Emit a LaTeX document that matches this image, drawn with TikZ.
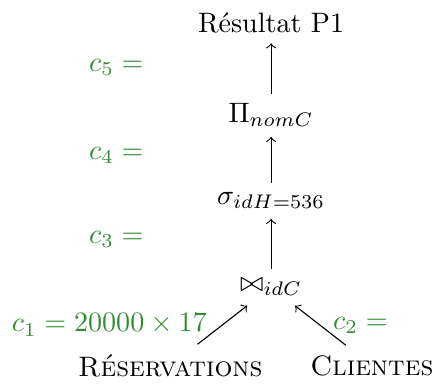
\documentclass[tikz,border=0pt]{standalone}
\definecolor{coutvert}{RGB}{51,140,51}
\begin{document}
\begin{tikzpicture}[cout/.style={text=coutvert}]
\useasboundingbox (-3.39,-1.225) rectangle (2.05,3.59);

\node (res) at (0,3.3) {R\'esultat P1};
\node (proj) at (0,2.15) {$\Pi_{nomC}$};
\node (sel) at (0,1.08) {$\sigma_{idH=536}$};
\node (join) at (0,0) {$\bowtie_{idC}$};
\node (resa) at (-1.26,-0.98) {\textsc{R\'eservations}};
\node (cli) at (1.26,-0.98) {\textsc{Clientes}};

\draw[->] (proj) -- (res);
\draw[->] (sel) -- (proj);
\draw[->] (join) -- (sel);
\draw[->] (resa) -- node[cout,left=2pt] {$c_1 = 20000 \times 17$} (join);
\draw[->] (cli) -- node[cout,right=1pt] {$c_2 =$} (join);

\def\xc{-1.47}
\node[cout,anchor=east] (c5) at (\xc,2.75) {$c_5 =$};
\node[cout,anchor=east] (c4) at (\xc,1.65) {$c_4 =$};
\node[cout,anchor=east] (c3) at (\xc,0.6) {$c_3 =$};

\end{tikzpicture}
\end{document}
